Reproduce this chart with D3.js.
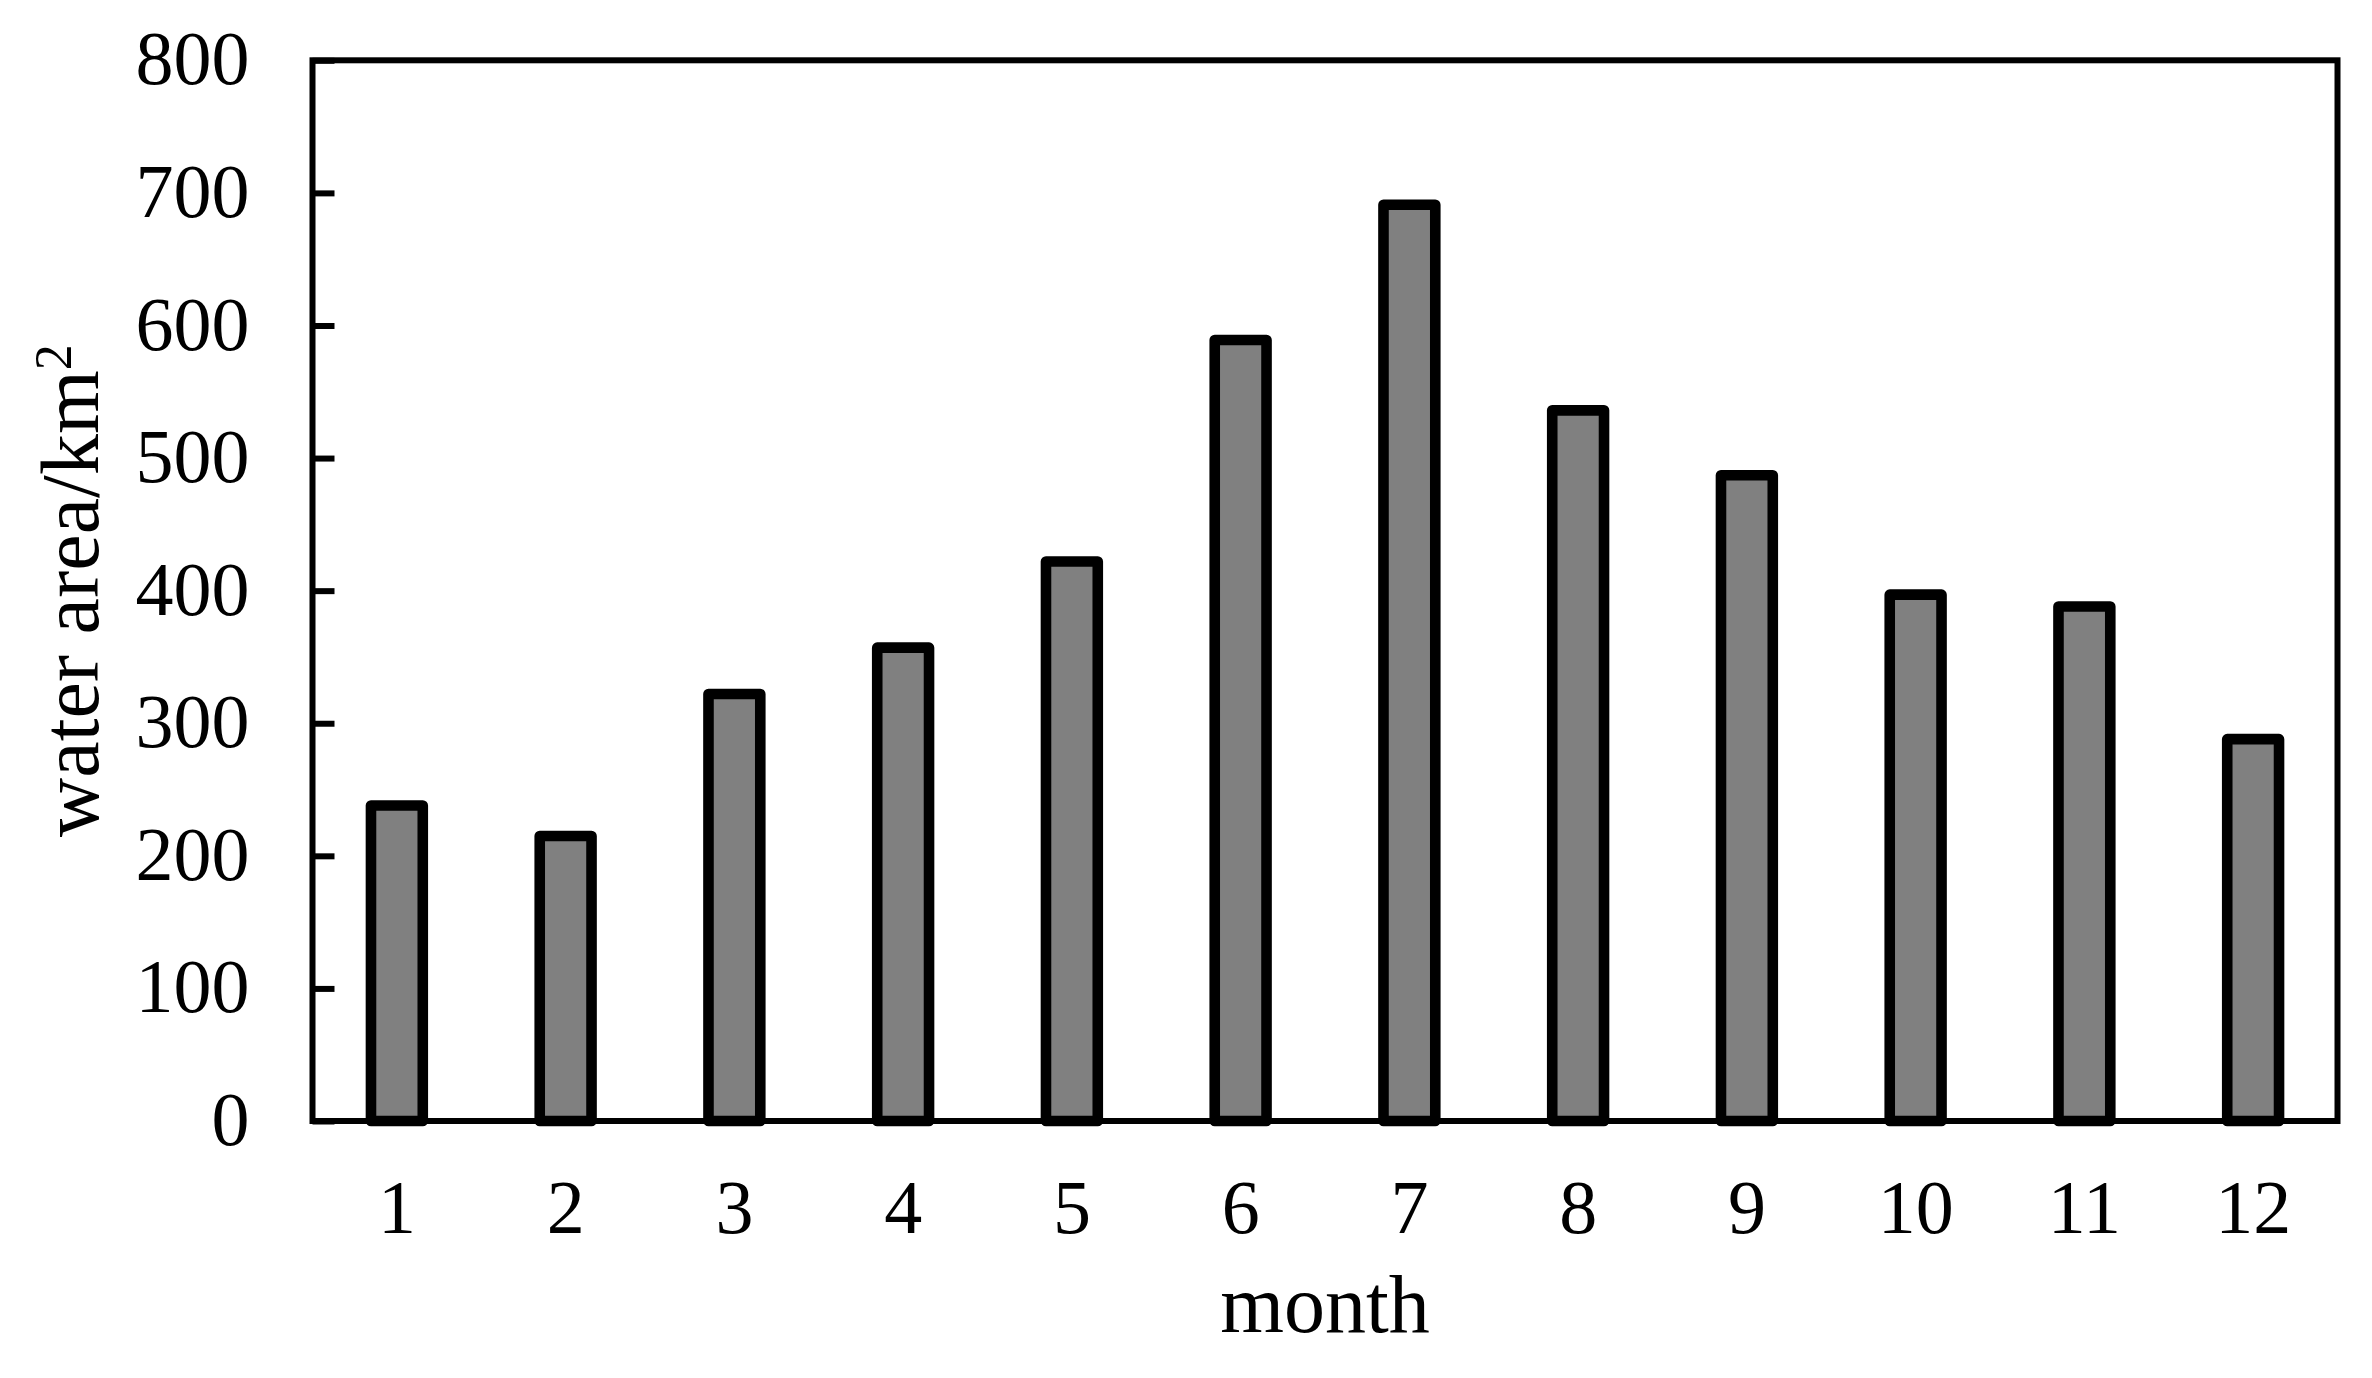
<!DOCTYPE html>
<html>
<head>
<meta charset="utf-8">
<script src="https://cdn.jsdelivr.net/npm/d3@7"></script>
<style>
  html, body { margin: 0; padding: 0; background: #fff; }
  svg { display: block; }
  text { font-family: "Liberation Serif", "Times New Roman", serif; fill: #000; }
</style>
</head>
<body>
<svg id="chart" width="2372" height="1378"></svg>
<script>
// ---- data ----
const months = ["1","2","3","4","5","6","7","8","9","10","11","12"];
const waterArea = [238, 215, 322, 357, 422, 589, 691, 536, 487, 397, 388, 288];
const yTicks = [0, 100, 200, 300, 400, 500, 600, 700, 800];
const xTitle = "month";
const yTitle = "water area/km";
const yTitleSup = "2";

// ---- layout ----
const W = 2372, H = 1378;
const margin = { left: 312.5, right: W - 2337.5, top: 60.3, bottom: H - 1121 };
const svg = d3.select("#chart");

const x = d3.scaleBand()
  .domain(months)
  .range([margin.left, W - margin.right])
  .paddingInner(0.693)
  .paddingOuter(0.3465);

const y = d3.scaleLinear()
  .domain([0, 800])
  .range([H - margin.bottom, margin.top]);

// bars
svg.append("g")
  .selectAll("rect")
  .data(waterArea)
  .join("rect")
  .attr("x", (d, i) => x(months[i]))
  .attr("y", d => y(d))
  .attr("width", x.bandwidth())
  .attr("height", d => y(0) - y(d))
  .attr("fill", "#808080")
  .attr("stroke", "#000")
  .attr("stroke-width", 10.6)
  .attr("stroke-linejoin", "round");

// y axis
const yAxis = svg.append("g")
  .attr("transform", `translate(${margin.left},0)`)
  .call(d3.axisLeft(y).tickValues(yTicks).tickSize(-22).tickPadding(63).tickFormat(d3.format("d")));
yAxis.select(".domain").remove();
yAxis.selectAll(".tick line").attr("stroke", "#000").attr("stroke-width", 6);
yAxis.selectAll(".tick text")
  .attr("font-size", 76)
  .attr("font-family", "Liberation Serif, Times New Roman, serif")
  .attr("dy", "0.31em");

// x axis
const xAxis = svg.append("g")
  .attr("transform", `translate(0,${H - margin.bottom})`)
  .call(d3.axisBottom(x).tickSize(0).tickPadding(58));
xAxis.select(".domain").remove();
xAxis.selectAll(".tick text")
  .attr("font-size", 76)
  .attr("font-family", "Liberation Serif, Times New Roman, serif");

// frame
svg.append("rect")
  .attr("x", margin.left)
  .attr("y", margin.top)
  .attr("width", W - margin.right - margin.left)
  .attr("height", H - margin.bottom - margin.top)
  .attr("fill", "none")
  .attr("stroke", "#000")
  .attr("stroke-width", 6);

// x title
svg.append("text")
  .attr("x", (margin.left + W - margin.right) / 2)
  .attr("y", 1331.5)
  .attr("text-anchor", "middle")
  .attr("font-size", 82)
  .text(xTitle);

// y title
const yt = svg.append("text")
  .attr("transform", `translate(98,${(margin.top + H - margin.bottom) / 2}) rotate(-90)`)
  .attr("text-anchor", "middle")
  .attr("font-size", 82);
yt.append("tspan").text(yTitle);
yt.append("tspan").attr("font-size", 52).attr("dy", -27).text(yTitleSup);
</script>
</body>
</html>
